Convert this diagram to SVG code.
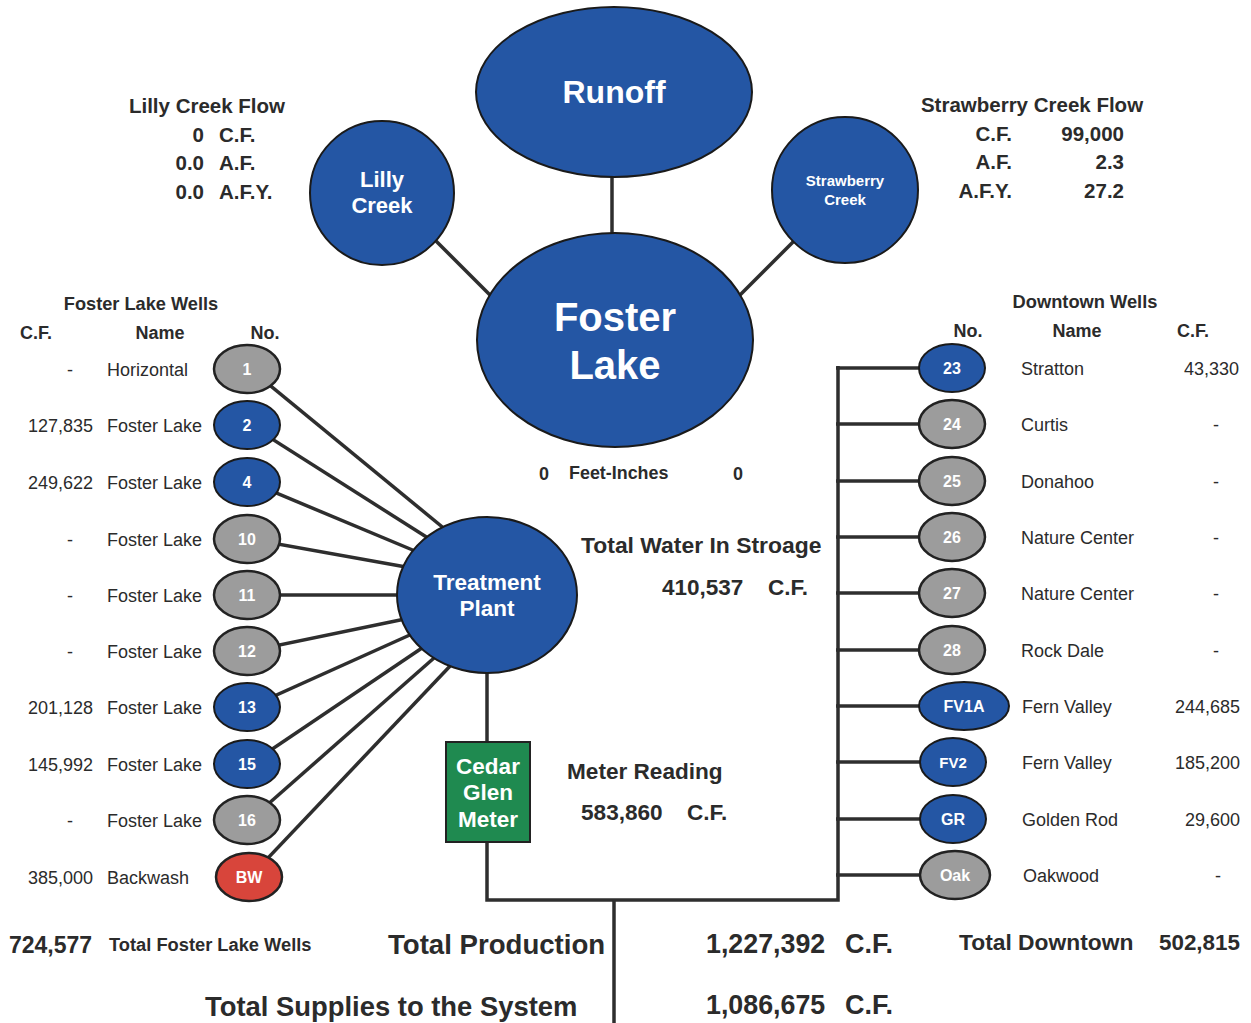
<svg xmlns="http://www.w3.org/2000/svg" width="1251" height="1023" viewBox="0 0 1251 1023">
<style>
  text { font-family: "Liberation Sans", Arial, sans-serif; fill: #2b2b2b; }
  .b { font-weight: bold; }
  .w { fill: #ffffff; font-weight: bold; text-anchor: middle; }
  .m { text-anchor: middle; }
  .e { text-anchor: end; }
  .blue { fill: #2456a4; stroke: #1a1a1a; stroke-width: 2; }
  .gray { fill: #9c9c9c; stroke: #222; stroke-width: 2.5; }
  .red { fill: #d8453b; stroke: #222; stroke-width: 2.5; }
  .green { fill: #1f8a50; stroke: #222; stroke-width: 2; }
  .conn line, .conn polyline { stroke: #2e2e2e; stroke-width: 3.5; fill: none; }
  .r { font-size: 18px; }
  .f { font-size: 20.5px; font-weight: bold; }
</style>
<rect width="1251" height="1023" fill="#ffffff"/>

<g class="conn" id="connectors">
  <line x1="612" y1="170" x2="612" y2="240"/>
  <line x1="430" y1="235" x2="495" y2="300"/>
  <line x1="800" y1="235" x2="735" y2="300"/>
  <line x1="250" y1="369" x2="446" y2="530"/>
  <line x1="250" y1="425" x2="428" y2="538"/>
  <line x1="250" y1="482" x2="415" y2="551"/>
  <line x1="250" y1="539" x2="406" y2="567"/>
  <line x1="250" y1="595" x2="402" y2="595"/>
  <line x1="250" y1="651" x2="405" y2="619"/>
  <line x1="250" y1="707" x2="412" y2="634"/>
  <line x1="250" y1="764" x2="422" y2="648"/>
  <line x1="250" y1="820" x2="434" y2="658"/>
  <line x1="250" y1="877" x2="452" y2="664"/>
  <line x1="487" y1="670" x2="487" y2="745"/>
  <polyline points="487,840 487,900 838,900 838,366"/>
  <line x1="614" y1="900" x2="614" y2="1023"/>
  <line x1="836" y1="368" x2="950" y2="368"/>
  <line x1="836" y1="424" x2="950" y2="424"/>
  <line x1="836" y1="481" x2="950" y2="481"/>
  <line x1="836" y1="537" x2="950" y2="537"/>
  <line x1="836" y1="593" x2="950" y2="593"/>
  <line x1="836" y1="650" x2="950" y2="650"/>
  <line x1="836" y1="706" x2="950" y2="706"/>
  <line x1="836" y1="762" x2="950" y2="762"/>
  <line x1="836" y1="819" x2="950" y2="819"/>
  <line x1="836" y1="875" x2="950" y2="875"/>
</g>

<g id="runoff"><ellipse class="blue" cx="614" cy="92" rx="138" ry="85"/><text class="w" x="614" y="103" font-size="32">Runoff</text></g>
<g id="foster-lake"><ellipse class="blue" cx="615" cy="340" rx="138" ry="107"/><text class="w" x="615" y="331" font-size="40">Foster</text><text class="w" x="615" y="379" font-size="40">Lake</text></g>
<g id="lilly-creek"><circle class="blue" cx="382" cy="193" r="72"/><text class="w" x="382" y="187" font-size="22">Lilly</text><text class="w" x="382" y="213" font-size="22">Creek</text></g>
<g id="strawberry-creek"><circle class="blue" cx="845" cy="190" r="73"/><text class="w" x="845" y="186" font-size="15">Strawberry</text><text class="w" x="845" y="205" font-size="15">Creek</text></g>
<g id="treatment-plant"><ellipse class="blue" cx="487" cy="595" rx="90" ry="78"/><text class="w" x="487" y="590" font-size="22.5">Treatment</text><text class="w" x="487" y="616" font-size="22.5">Plant</text></g>
<g id="cedar-glen-meter"><rect class="green" x="446" y="742" width="84" height="100"/><text class="w" x="488" y="774" font-size="22.5">Cedar</text><text class="w" x="488" y="800" font-size="22.5">Glen</text><text class="w" x="488" y="827" font-size="22.5">Meter</text></g>

<!-- Left wells -->
<g id="well-1"><ellipse class="gray" cx="247" cy="369" rx="33" ry="24"/><text class="w" x="247" y="375" font-size="16">1</text></g>
<g id="well-2"><ellipse class="blue" cx="247" cy="425" rx="33" ry="24"/><text class="w" x="247" y="431" font-size="16">2</text></g>
<g id="well-4"><ellipse class="blue" cx="247" cy="482" rx="33" ry="24"/><text class="w" x="247" y="488" font-size="16">4</text></g>
<g id="well-10"><ellipse class="gray" cx="247" cy="539" rx="33" ry="24"/><text class="w" x="247" y="545" font-size="16">10</text></g>
<g id="well-11"><ellipse class="gray" cx="247" cy="595" rx="33" ry="24"/><text class="w" x="247" y="601" font-size="16">11</text></g>
<g id="well-12"><ellipse class="gray" cx="247" cy="651" rx="33" ry="24"/><text class="w" x="247" y="657" font-size="16">12</text></g>
<g id="well-13"><ellipse class="blue" cx="247" cy="707" rx="33" ry="24"/><text class="w" x="247" y="713" font-size="16">13</text></g>
<g id="well-15"><ellipse class="blue" cx="247" cy="764" rx="33" ry="24"/><text class="w" x="247" y="770" font-size="16">15</text></g>
<g id="well-16"><ellipse class="gray" cx="247" cy="820" rx="33" ry="24"/><text class="w" x="247" y="826" font-size="16">16</text></g>
<g id="well-bw"><ellipse class="red" cx="249" cy="877" rx="33" ry="24"/><text class="w" x="249" y="883" font-size="16">BW</text></g>

<!-- Right wells -->
<g id="well-23"><ellipse class="blue" cx="952" cy="368" rx="33" ry="24"/><text class="w" x="952" y="374" font-size="16">23</text></g>
<g id="well-24"><ellipse class="gray" cx="952" cy="424" rx="33" ry="24"/><text class="w" x="952" y="430" font-size="16">24</text></g>
<g id="well-25"><ellipse class="gray" cx="952" cy="481" rx="33" ry="24"/><text class="w" x="952" y="487" font-size="16">25</text></g>
<g id="well-26"><ellipse class="gray" cx="952" cy="537" rx="33" ry="24"/><text class="w" x="952" y="543" font-size="16">26</text></g>
<g id="well-27"><ellipse class="gray" cx="952" cy="593" rx="33" ry="24"/><text class="w" x="952" y="599" font-size="16">27</text></g>
<g id="well-28"><ellipse class="gray" cx="952" cy="650" rx="33" ry="24"/><text class="w" x="952" y="656" font-size="16">28</text></g>
<g id="well-fv1a"><ellipse class="blue" cx="964" cy="706" rx="45" ry="24"/><text class="w" x="964" y="712" font-size="16">FV1A</text></g>
<g id="well-fv2"><ellipse class="blue" cx="953" cy="762" rx="33" ry="24"/><text class="w" x="953" y="768" font-size="15">FV2</text></g>
<g id="well-gr"><ellipse class="blue" cx="953" cy="819" rx="33" ry="24"/><text class="w" x="953" y="825" font-size="16">GR</text></g>
<g id="well-oak"><ellipse class="gray" cx="955" cy="875" rx="35" ry="24"/><text class="w" x="955" y="881" font-size="16">Oak</text></g>

<!-- Top texts -->
<g id="lilly-flow">
  <text class="f m" x="207" y="113">Lilly Creek Flow</text>
  <text class="f e" x="204" y="142">0</text><text class="f" x="219" y="142">C.F.</text>
  <text class="f e" x="204" y="170">0.0</text><text class="f" x="219" y="170">A.F.</text>
  <text class="f e" x="204" y="199">0.0</text><text class="f" x="219" y="199">A.F.Y.</text>
</g>
<g id="strawberry-flow">
  <text class="f m" x="1032" y="112">Strawberry Creek Flow</text>
  <text class="f e" x="1012" y="141">C.F.</text><text class="f e" x="1124" y="141">99,000</text>
  <text class="f e" x="1012" y="169">A.F.</text><text class="f e" x="1124" y="169">2.3</text>
  <text class="f e" x="1012" y="198">A.F.Y.</text><text class="f e" x="1124" y="198">27.2</text>
</g>

<!-- Foster Lake wells table -->
<g id="foster-table">
  <text class="b m" x="141" y="310" font-size="18.2">Foster Lake Wells</text>
  <text class="b m" x="36" y="339" font-size="18">C.F.</text>
  <text class="b m" x="160" y="339" font-size="18">Name</text>
  <text class="b m" x="265" y="339" font-size="18">No.</text>
  <text class="r m" x="70" y="376">-</text><text class="r" x="107" y="376">Horizontal</text>
  <text class="r e" x="93" y="432">127,835</text><text class="r" x="107" y="432">Foster Lake</text>
  <text class="r e" x="93" y="489">249,622</text><text class="r" x="107" y="489">Foster Lake</text>
  <text class="r m" x="70" y="546">-</text><text class="r" x="107" y="546">Foster Lake</text>
  <text class="r m" x="70" y="602">-</text><text class="r" x="107" y="602">Foster Lake</text>
  <text class="r m" x="70" y="658">-</text><text class="r" x="107" y="658">Foster Lake</text>
  <text class="r e" x="93" y="714">201,128</text><text class="r" x="107" y="714">Foster Lake</text>
  <text class="r e" x="93" y="771">145,992</text><text class="r" x="107" y="771">Foster Lake</text>
  <text class="r m" x="70" y="827">-</text><text class="r" x="107" y="827">Foster Lake</text>
  <text class="r e" x="93" y="884">385,000</text><text class="r" x="107" y="884">Backwash</text>
</g>

<!-- Downtown wells table -->
<g id="downtown-table">
  <text class="b m" x="1085" y="308" font-size="18.3">Downtown Wells</text>
  <text class="b m" x="968" y="337" font-size="18">No.</text>
  <text class="b m" x="1077" y="337" font-size="18">Name</text>
  <text class="b m" x="1193" y="337" font-size="18">C.F.</text>
  <text class="r" x="1021" y="375">Stratton</text><text class="r e" x="1239" y="375">43,330</text>
  <text class="r" x="1021" y="431">Curtis</text><text class="r m" x="1216" y="431">-</text>
  <text class="r" x="1021" y="488">Donahoo</text><text class="r m" x="1216" y="488">-</text>
  <text class="r" x="1021" y="544">Nature Center</text><text class="r m" x="1216" y="544">-</text>
  <text class="r" x="1021" y="600">Nature Center</text><text class="r m" x="1216" y="600">-</text>
  <text class="r" x="1021" y="657">Rock Dale</text><text class="r m" x="1216" y="657">-</text>
  <text class="r" x="1022" y="713">Fern Valley</text><text class="r e" x="1240" y="713">244,685</text>
  <text class="r" x="1022" y="769">Fern Valley</text><text class="r e" x="1240" y="769">185,200</text>
  <text class="r" x="1022" y="826">Golden Rod</text><text class="r e" x="1240" y="826">29,600</text>
  <text class="r" x="1023" y="882">Oakwood</text><text class="r m" x="1218" y="882">-</text>
</g>

<!-- Center texts -->
<g id="storage">
  <text class="b m" x="544" y="480" font-size="18">0</text>
  <text class="b" x="569" y="479" font-size="17.9">Feet-Inches</text>
  <text class="b m" x="738" y="480" font-size="18">0</text>
  <text class="b" x="581" y="553" font-size="22.9">Total Water In Stroage</text>
  <text class="b" x="662" y="595" font-size="22.5">410,537</text>
  <text class="b" x="768" y="595" font-size="22.5">C.F.</text>
  <text class="b" x="567" y="779" font-size="22.6">Meter Reading</text>
  <text class="b" x="581" y="820" font-size="22.6">583,860</text>
  <text class="b" x="687" y="820" font-size="22.6">C.F.</text>
</g>

<!-- Bottom totals -->
<g id="totals">
  <text class="b" x="9" y="953" font-size="23">724,577</text>
  <text class="b" x="109" y="951" font-size="18.3">Total Foster Lake Wells</text>
  <text class="b" x="388" y="954" font-size="27.6">Total Production</text>
  <text class="b" x="706" y="953" font-size="26.8">1,227,392</text>
  <text class="b" x="845" y="953" font-size="27">C.F.</text>
  <text class="b" x="959" y="950" font-size="22.8">Total Downtown</text>
  <text class="b" x="1159" y="950" font-size="22.4">502,815</text>
  <text class="b" x="205" y="1016" font-size="27.4">Total Supplies to the System</text>
  <text class="b" x="706" y="1014" font-size="26.8">1,086,675</text>
  <text class="b" x="845" y="1014" font-size="27">C.F.</text>
</g>
</svg>
